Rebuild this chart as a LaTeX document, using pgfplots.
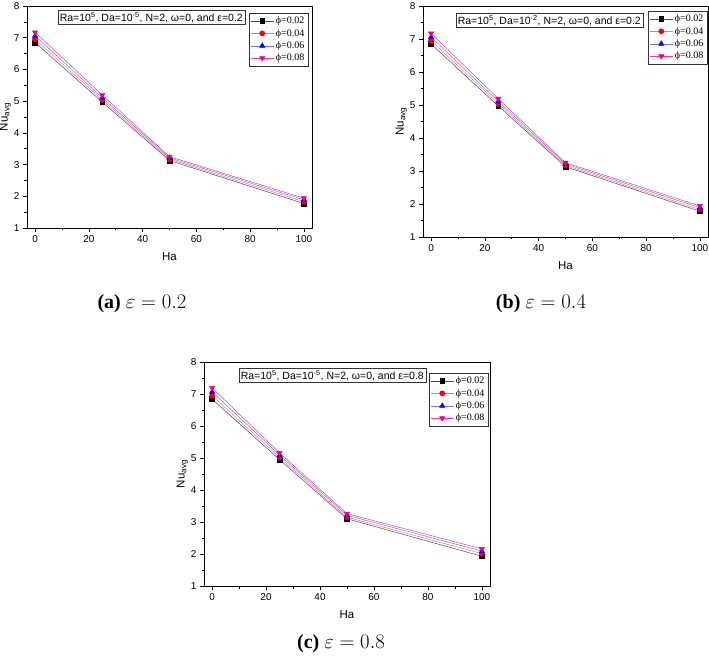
\documentclass[border=0pt]{standalone}
\usepackage{fontspec}
\setmainfont{Liberation Sans}
\newfontfamily\serif{Liberation Serif}
\usepackage{pgfplots}
\pgfplotsset{compat=1.18}
\tikzset{note/.style={draw=black!80, fill=white, inner sep=2pt, font=\fontsize{10.5}{11}\selectfont, anchor=north east}}
\pgfplotsset{
 myax/.style={
  scale only axis, anchor=south west,
  xmin=-3, xmax=103, ymin=1, ymax=8,
  xtick={0,20,...,100}, ytick={1,...,8},
  minor x tick num=1, minor y tick num=1,
  tick align=outside, tick pos=left,
  major tick length=4pt, minor tick length=2.5pt,
  axis line style={line width=0.8pt},
  every tick/.style={black, line width=0.6pt},
  tick label style={font=\fontsize{10}{11}\selectfont},
  /pgf/number format/assume math mode=true,
  xlabel={Ha}, ylabel={Nu\textsubscript{avg}},
  label style={font=\fontsize{11.5}{12}\selectfont},
  xlabel shift=3pt, ylabel shift=-4pt,
  legend cell align=left,
  legend style={draw=black!80, font=\serif\fontsize{10}{12}\selectfont, inner sep=1.5pt, row sep=0pt,
     at={(1,1)}, anchor=north east},
  legend image code/.code={\draw[mark repeat=2,mark phase=2] plot coordinates {(0cm,0cm)(0.4cm,0cm)(0.8cm,0cm)};},
 },
 s1/.style={color=black!70, line width=0.5pt, mark=square*, mark size=2.4pt, mark options={fill=black, draw=black, solid}},
 s2/.style={color=red!55, line width=0.5pt, mark=*, mark size=2.6pt, mark options={fill=red, draw=red, solid}},
 s3/.style={color=blue!55, line width=0.5pt, mark=triangle*, mark size=3pt, mark options={fill=blue, draw=blue, solid}},
 s4/.style={color=magenta!80, line width=0.5pt, mark=triangle*, mark size=3pt, mark options={fill=magenta, draw=magenta, rotate=180, solid}},
}
\begin{document}
\begin{tikzpicture}
\useasboundingbox (0,0) rectangle (709pt,656pt);
% (a)
\begin{axis}[myax, at={(27pt,428pt)}, width=285pt, height=222pt,
  legend style={xshift=-4pt, yshift=-7pt}]
\addplot[s1] coordinates {(0,6.85)(25,4.97)(50,3.13)(100,1.77)};
\addplot[s2] coordinates {(0,6.95)(25,5.04)(50,3.17)(100,1.83)};
\addplot[s3] coordinates {(0,7.06)(25,5.11)(50,3.21)(100,1.89)};
\addplot[s4] coordinates {(0,7.17)(25,5.19)(50,3.25)(100,1.94)};
\legend{ϕ=0.02, ϕ=0.04, ϕ=0.06, ϕ=0.08}
\node[note, xshift=-67pt, yshift=-4pt] at (rel axis cs:1,1) {Ra=10\textsuperscript{5}, Da=10\textsuperscript{-5}, N=2, ω=0, and ε=0.2};
\end{axis}
% (b)
\begin{axis}[myax, at={(423pt,419pt)}, width=285pt, height=231pt,
  legend style={xshift=-1pt, yshift=-5pt}]
\addplot[s1] coordinates {(0,6.85)(25,4.97)(50,3.13)(100,1.78)};
\addplot[s2] coordinates {(0,6.95)(25,5.04)(50,3.17)(100,1.83)};
\addplot[s3] coordinates {(0,7.06)(25,5.11)(50,3.21)(100,1.89)};
\addplot[s4] coordinates {(0,7.17)(25,5.19)(50,3.25)(100,1.94)};
\legend{ϕ=0.02, ϕ=0.04, ϕ=0.06, ϕ=0.08}
\node[note, xshift=-65pt, yshift=-7pt] at (rel axis cs:1,1) {Ra=10\textsuperscript{5}, Da=10\textsuperscript{-2}, N=2, ω=0, and ε=0.2};
\end{axis}
% (c)
\begin{axis}[myax, at={(204pt,70pt)}, width=286pt, height=224pt,
  legend style={xshift=-2pt, yshift=-11pt}]
\addplot[s1] coordinates {(0,6.84)(25,4.95)(50,3.10)(100,1.93)};
\addplot[s2] coordinates {(0,6.95)(25,5.02)(50,3.15)(100,2.01)};
\addplot[s3] coordinates {(0,7.07)(25,5.09)(50,3.21)(100,2.09)};
\addplot[s4] coordinates {(0,7.19)(25,5.16)(50,3.26)(100,2.16)};
\legend{ϕ=0.02, ϕ=0.04, ϕ=0.06, ϕ=0.08}
\node[note, xshift=-64pt, yshift=-6pt] at (rel axis cs:1,1) {Ra=10\textsuperscript{5}, Da=10\textsuperscript{-5}, N=2, ω=0, and ε=0.8};
\end{axis}
% captions
\node[font=\serif\fontsize{20}{24}\selectfont] at (142pt,352pt) {\textbf{(a)} $\varepsilon = 0.2$};
\node[font=\serif\fontsize{20}{24}\selectfont] at (541pt,352pt) {\textbf{(b)} $\varepsilon = 0.4$};
\node[font=\serif\fontsize{20}{24}\selectfont] at (341pt,12pt) {\textbf{(c)} $\varepsilon = 0.8$};
\end{tikzpicture}
\end{document}
